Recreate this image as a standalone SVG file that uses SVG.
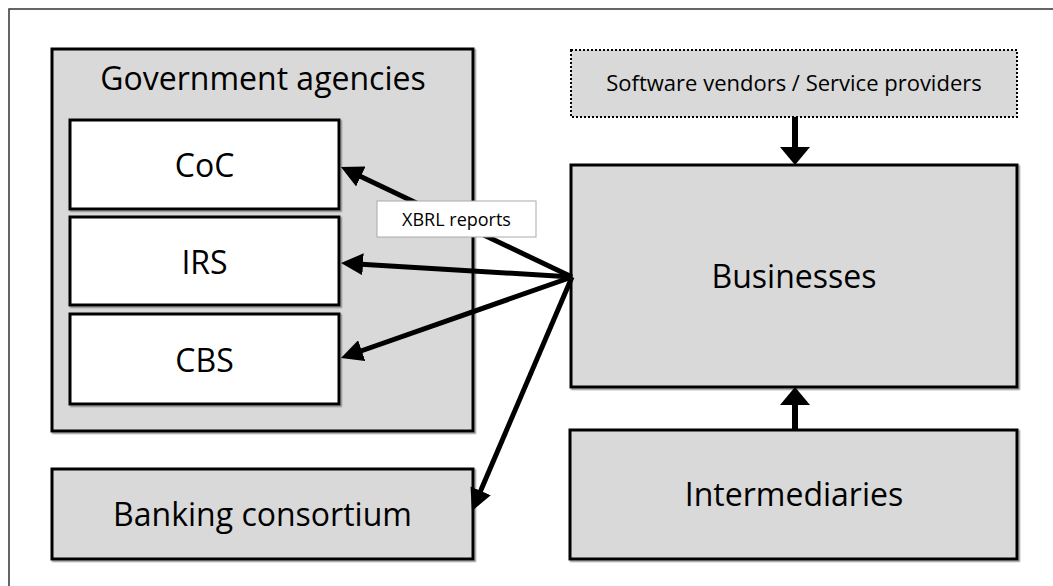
<svg xmlns="http://www.w3.org/2000/svg" width="1053" height="586" viewBox="0 0 1053 586">
<defs>
<style>
.box{fill:#d9d9d9;stroke:#000;stroke-width:3;filter:url(#sh)}
.wbox{fill:#fff;stroke:#000;stroke-width:3;filter:url(#sh)}
.big{font-family:"Open Sans","Noto Sans",sans-serif;font-size:32px;fill:#000;text-anchor:middle}
.mid{font-family:"Open Sans","Noto Sans",sans-serif;font-size:22px;fill:#000;text-anchor:middle}
.sm{font-family:"Open Sans","Noto Sans",sans-serif;font-size:18px;fill:#000;text-anchor:middle}
.conn{stroke:#000;stroke-width:5;fill:none}
.vconn{stroke:#000;stroke-width:6;fill:none}
</style>
<filter id="sh" x="-5%" y="-5%" width="110%" height="110%">
<feDropShadow dx="1.5" dy="1.5" stdDeviation="0.6" flood-color="#777" flood-opacity="0.8"/>
</filter>
<marker id="ah" markerUnits="userSpaceOnUse" markerWidth="22" markerHeight="22" refX="10" refY="11" orient="auto">
<path d="M0,0 L22,11 L0,22 z" fill="#000"/>
</marker>
<marker id="vh" markerUnits="userSpaceOnUse" markerWidth="18" markerHeight="30" refX="6" refY="15" orient="auto">
<path d="M0,0 L18,15 L0,30 z" fill="#000"/>
</marker>
</defs>
<rect x="0" y="0" width="1053" height="586" fill="#fff"/>
<rect x="9" y="9" width="1070" height="600" fill="none" stroke="#333" stroke-width="1.5"/>

<g id="gov">
<rect class="box" x="52" y="49" width="421" height="382"/>
<text class="big" x="263" y="90">Government agencies</text>
</g>
<g id="coc">
<rect class="wbox" x="70" y="120" width="269" height="89"/>
<text class="big" x="204.5" y="177">CoC</text>
</g>
<g id="irs">
<rect class="wbox" x="70" y="217" width="269" height="88"/>
<text class="big" x="204.5" y="274">IRS</text>
</g>
<g id="cbs">
<rect class="wbox" x="70" y="314" width="269" height="90"/>
<text class="big" x="204.5" y="372">CBS</text>
</g>
<g id="banking">
<rect class="box" x="52" y="469" width="421" height="90"/>
<text class="big" x="262.5" y="526">Banking consortium</text>
</g>
<g id="software">
<rect x="571" y="50" width="446" height="67" fill="#d9d9d9" stroke="#000" stroke-width="2" stroke-dasharray="2,2"/>
<text class="mid" x="794" y="91">Software vendors / Service providers</text>
</g>
<g id="businesses">
<rect class="box" x="571" y="165" width="446" height="222"/>
<text class="big" x="794" y="288">Businesses</text>
</g>
<g id="intermediaries">
<rect class="box" x="570" y="430" width="447" height="129"/>
<text class="big" x="794" y="506">Intermediaries</text>
</g>

<g id="connectors">
<line class="conn" x1="572" y1="277" x2="351.8" y2="172.2" marker-end="url(#ah)"/>
<line class="conn" x1="572" y1="277" x2="353" y2="263.7" marker-end="url(#ah)"/>
<line class="conn" x1="572" y1="277" x2="352.3" y2="354" marker-end="url(#ah)"/>
<line class="conn" x1="572" y1="277" x2="476.7" y2="500" marker-end="url(#ah)"/>
<line class="vconn" x1="795" y1="117" x2="795" y2="153" marker-end="url(#vh)"/>
<line class="vconn" x1="795" y1="430" x2="795" y2="399" marker-end="url(#vh)"/>
</g>

<g id="xbrl-label">
<rect x="377" y="201" width="159" height="36" fill="#fff" stroke="#aaa" stroke-width="1"/>
<text class="sm" x="456.5" y="226">XBRL reports</text>
</g>
</svg>
